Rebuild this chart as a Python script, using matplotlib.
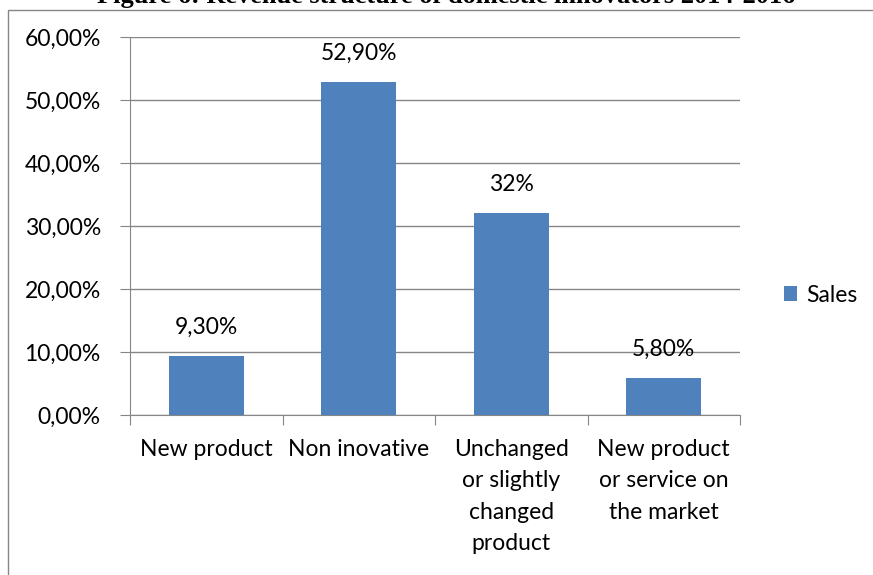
import matplotlib
matplotlib.use('Agg')
from matplotlib import pyplot as plt
from matplotlib.patches import Rectangle
from matplotlib.ticker import FuncFormatter

categories = ['New product', 'Non inovative', 'Unchanged\nor slightly\nchanged\nproduct', 'New product\nor service on\nthe market']
sales = [9.3, 52.9, 32.0, 5.8]
labels = ['9,30%', '52,90%', '32%', '5,80%']
yticks = [0, 10, 20, 30, 40, 50, 60]

plt.rcParams['font.family'] = ['Lato', 'DejaVu Sans']
FS = 16.5

fig = plt.figure(figsize=(8.73, 5.75), dpi=100)
ax = fig.add_axes([130 / 873, 1 - 415 / 575, 610 / 873, 378 / 575])

x = range(len(categories))
ax.bar(x, sales, width=0.49, color='#4f81bd', label='Sales', zorder=3)
for i, v in enumerate(sales):
    ax.text(i, v + 2.9, labels[i], ha='center', va='bottom', fontsize=FS)

ax.set_xlim(-0.5, 3.5)
ax.set_ylim(0, 60)
ax.set_yticks(yticks)
ax.yaxis.set_major_formatter(FuncFormatter(lambda v, p: ('%.2f' % v).replace('.', ',') + '%'))
ax.set_xticks([-0.5, 0.5, 1.5, 2.5, 3.5])
ax.set_xticklabels([])
ax.set_xticks(list(x), minor=True)
ax.set_xticklabels(categories, minor=True, fontsize=FS, linespacing=1.62, va='top')
ax.tick_params(axis='x', which='minor', length=0, pad=17)
ax.tick_params(axis='x', which='major', length=7, color='#868686', direction='out')
ax.tick_params(axis='y', length=7, color='#868686', labelsize=FS, pad=14)
ax.grid(axis='y', color='#868686', linewidth=1, zorder=0)
for s in ['top', 'right']:
    ax.spines[s].set_visible(False)
for s in ['left', 'bottom']:
    ax.spines[s].set_color('#868686')

fig.legend(loc='center left', bbox_to_anchor=(763 / 873, 1 - 295 / 575), frameon=False,
           fontsize=FS, handlelength=0.6, handleheight=0.6, handletextpad=0.4)

# outer chart frame
fig.patches.append(Rectangle((8 / 873, -0.1), 2, 1 - 10 / 575 + 0.1, transform=fig.transFigure,
                             fill=False, edgecolor='#868686', linewidth=1))
fig.text(446 / 873, 1 - 3 / 575, 'Figure 6: Revenue structure of domestic innovators 2014-2016',
         ha='center', va='baseline', fontsize=19, fontweight='bold', family='Liberation Serif')

fig.savefig('out.png', dpi=100)
